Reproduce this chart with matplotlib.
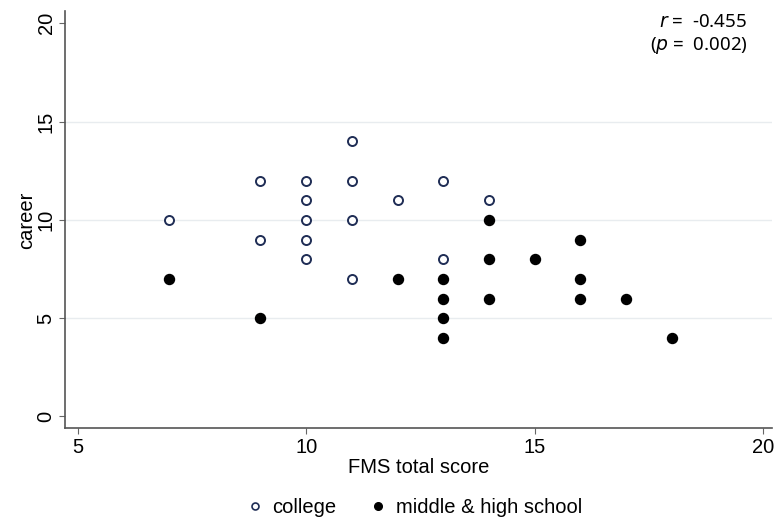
import matplotlib
matplotlib.use('Agg')
import matplotlib.pyplot as plt
from matplotlib.lines import Line2D

plt.rcParams['font.family'] = ['Liberation Sans', 'DejaVu Sans']

# college (open circles)
col_x = [7, 9, 9, 10, 10, 10, 10, 10, 11, 11, 11, 11, 12, 13, 13, 14]
col_y = [10, 12, 9, 12, 11, 10, 9, 8, 14, 12, 10, 7, 11, 12, 8, 11]
# middle & high school (filled)
mhs_x = [7, 9, 12, 13, 13, 13, 13, 14, 14, 14, 15, 16, 16, 16, 17, 18]
mhs_y = [7, 5, 7, 7, 6, 5, 4, 10, 8, 6, 8, 9, 7, 6, 6, 4]

x_ticks = [5, 10, 15, 20]
y_ticks = [0, 5, 10, 15, 20]

fig = plt.figure(figsize=(7.77, 5.21), dpi=100)
ax = fig.add_axes([0.084, 0.178, 0.91, 0.8])

for g in [5, 10, 15]:
    ax.axhline(g, color='#e8ecef', lw=1, zorder=0)

ax.plot(col_x, col_y, ls='', marker='o', ms=6.5, mfc='white', mec='#1f2d55', mew=1.4)
ax.plot(mhs_x, mhs_y, ls='', marker='o', ms=7.2, mfc='black', mec='black')

ax.set_xlim(4.73, 20.2)
ax.set_ylim(-0.6, 20.6)
ax.set_xticks(x_ticks)
ax.set_yticks(y_ticks)
ax.tick_params(labelsize=14.5, length=4, color='#666666', width=0.8, pad=3)
for lbl in ax.get_yticklabels():
    lbl.set_rotation(90)
    lbl.set_va('center')
for s in ['top', 'right']:
    ax.spines[s].set_visible(False)
for s in ['left', 'bottom']:
    ax.spines[s].set_color('#555555')
    ax.spines[s].set_linewidth(1.2)

ax.set_xlabel('FMS total score', fontsize=14.5, labelpad=1)
ax.set_ylabel('career', fontsize=14.5, labelpad=0)

fig.text(0.962, 0.948, r'$\it{r}$ =  -0.455', ha='right', fontsize=13.5,
         family=['Noto Sans', 'DejaVu Sans'])
fig.text(0.962, 0.904, r'($\it{p}$ =  0.002)', ha='right', fontsize=13.5,
         family=['Noto Sans', 'DejaVu Sans'])

handles = [Line2D([], [], ls='', marker='o', ms=5, mfc='white', mec='#1f2d55', mew=1.2),
           Line2D([], [], ls='', marker='o', ms=5.5, mfc='black', mec='black')]
fig.legend(handles, ['college', 'middle & high school'], loc='center',
           bbox_to_anchor=(0.532, 0.025), ncol=2, frameon=False, fontsize=14.5,
           handletextpad=0.35, columnspacing=1.6, handlelength=1.0)

fig.savefig('out.png', dpi=100)
